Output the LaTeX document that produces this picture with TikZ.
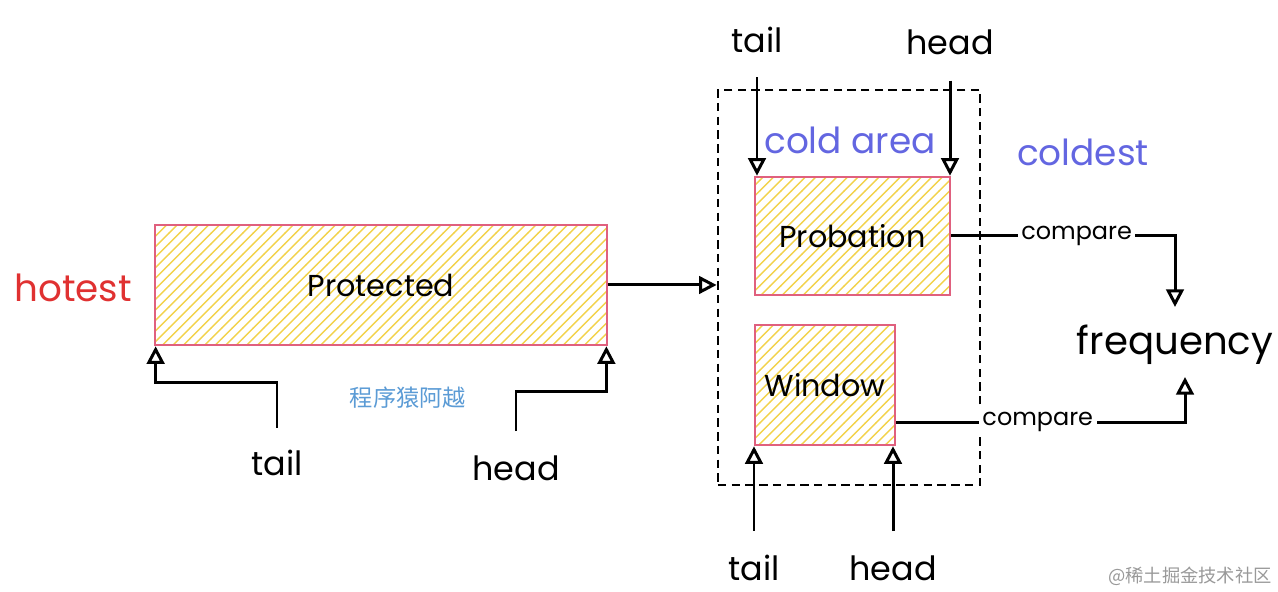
\documentclass[tikz,border=0pt]{standalone}
\usepackage{fontspec}
\setmainfont{Poppins}
\newfontfamily\cjk{Noto Sans CJK SC}
\usetikzlibrary{arrows.meta,patterns}
\definecolor{pinkb}{HTML}{E0607E}
\definecolor{hatch}{HTML}{F2D24B}
\definecolor{hotred}{HTML}{E03131}
\definecolor{coldblue}{HTML}{6366E1}
\definecolor{cnblue}{HTML}{5B9BD5}
\tikzset{
    box/.style={draw=pinkb, line width=0.7pt, pattern=north east lines, pattern color=hatch,
        inner sep=1pt, font=\fontsize{8.6}{10}\selectfont},
    area/.style={draw, dashed, line width=0.75pt, dash pattern=on 2.4pt off 1.5pt},
    arr/.style={-{Triangle[open,length=5pt,width=5pt]}, line width=0.85pt},
    lbl/.style={font=\fontsize{9.5}{11}\selectfont, inner sep=1pt},
    cmp/.style={font=\fontsize{6.8}{8}\selectfont, fill=white, inner sep=1pt},
}
\begin{document}
\begin{tikzpicture}[x=0.01cm, y=-0.01cm]
    \useasboundingbox (0,0) rectangle (1278,592);
    % left side: protected segment
    \node[lbl, text=hotred, font=\fontsize{10.6}{12}\selectfont] (hot) at (73,288) {hotest};
    \node[box, minimum width=4.52cm, minimum height=1.2cm] (prot) at (381,285) {Protected};
    \node[lbl] (tailP) at (277,463) {tail};
    \node[lbl] (headP) at (516,468) {head};
    \node[text=cnblue, font=\cjk\fontsize{6.6}{8}\selectfont] (cn) at (408,398) {程序猿阿越};
    \draw[arr] ([yshift=0.18cm]tailP.north) -- ++(0,-45) -| ([xshift=0.02cm]prot.south west);
    \draw[arr] ([yshift=0.2cm]headP.north) -- ++(0,-40) -| ([xshift=-0.02cm]prot.south east);
    % cold area: probation and window
    \node[area, minimum width=2.62cm, minimum height=3.95cm] (cold) at (849,287.5) {};
    \node[box, minimum width=1.95cm, minimum height=1.18cm] (prob) at (852.5,236) {Probation};
    \node[box, minimum width=1.4cm, minimum height=1.2cm] (win) at (825,385) {Window};
    \node[lbl, text=coldblue, font=\fontsize{10.2}{12}\selectfont] (cname) at (850,140) {cold area};
    \node[lbl, text=coldblue, font=\fontsize{10.2}{12}\selectfont] (coldest) at (1083,152) {coldest};
    \node[lbl] (tailA) at (757,40) {tail};
    \node[lbl] (headA) at (950,42) {head};
    \node[lbl] (tailC) at (754,568) {tail};
    \node[lbl] (headC) at (893,568) {head};
    \draw[arr] (prot.east) -- (prot.east -| cold.west);
    \draw[arr] ([yshift=-0.2cm]tailA.south) -- (tailA.south |- prob.north);
    \draw[arr] ([yshift=-0.22cm]headA.south) -- (headA.south |- prob.north);
    \draw[arr] ([yshift=0.2cm]tailC.north) -- (tailC.north |- win.south);
    \draw[arr] ([yshift=0.2cm]headC.north) -- (headC.north |- win.south);
    % frequency comparison
    \node[lbl, font=\fontsize{11}{13}\selectfont] (freq) at (1175,345) {frequency};
    \draw[arr] (prob.east) -| ([yshift=0.14cm]freq.north)
        node[cmp, pos=0.28] {compare};
    \draw[arr] ([yshift=-0.37cm]win.east) -| ([xshift=0.1cm,yshift=-0.08cm]freq.south)
        node[cmp, pos=0.245] {compare};
    \node[text=black!40, font=\cjk\fontsize{5.2}{6}\selectfont] (wm) at (1190,576) {@稀土掘金技术社区};
\end{tikzpicture}
\end{document}
